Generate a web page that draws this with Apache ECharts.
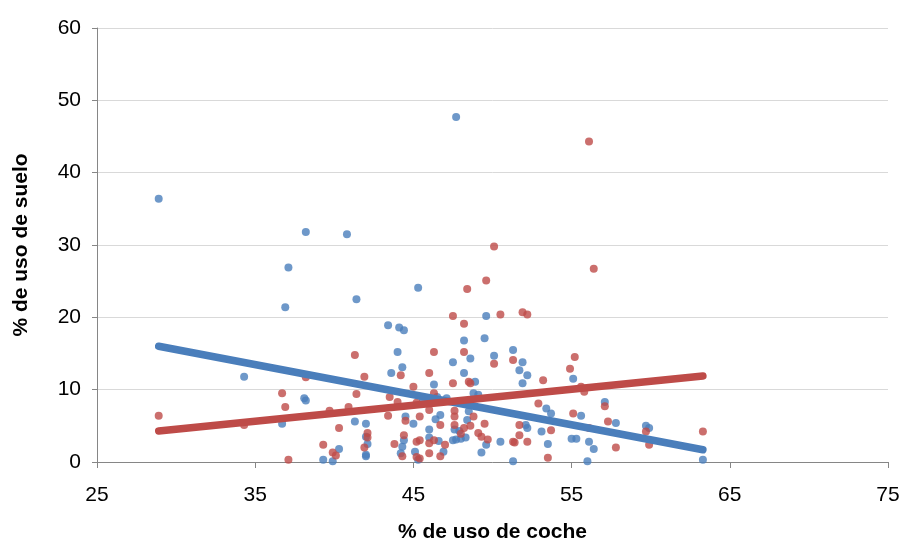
<!DOCTYPE html>
<html>
<head>
<meta charset="utf-8">
<script src="https://cdn.jsdelivr.net/npm/echarts@6/dist/echarts.min.js"></script>
<style>
  html, body { margin: 0; padding: 0; background: #fff; }
  #chart { width: 908px; height: 543px; }
</style>
</head>
<body>
<div id="chart"></div>
<script>
// ejes
var xTicks = [25, 35, 45, 55, 65, 75];
var yTicks = [0, 10, 20, 30, 40, 50, 60];

// serie azul: [% uso coche, % uso suelo]
var bluePoints = [
  [28.9, 36.4], [47.7, 47.7], [38.2, 31.8], [40.8, 31.5], [37.1, 26.9], [36.9, 21.4],
  [41.4, 22.5], [45.3, 24.1], [34.3, 11.8], [38.1, 8.8], [38.2, 8.5], [36.7, 5.3],
  [40.3, 1.8], [39.3, 0.3], [39.9, 0.1], [43.4, 18.9], [44.1, 18.6], [44.4, 18.2],
  [48.2, 16.8], [44.0, 15.2], [47.5, 13.8], [44.3, 13.1], [43.6, 12.3], [48.2, 12.3],
  [46.3, 10.7], [41.3, 5.6], [42.0, 5.3], [44.5, 6.3], [45.0, 5.3], [46.0, 4.5],
  [46.4, 5.9], [46.7, 6.5], [46.0, 3.4], [46.6, 2.9], [47.5, 3.0], [47.7, 3.1],
  [47.9, 4.3], [42.0, 0.8], [42.1, 2.5], [44.3, 2.1], [44.4, 3.0], [45.1, 1.4],
  [45.3, 0.3], [46.9, 1.4], [42.0, 3.5], [42.0, 1.0], [44.2, 1.2], [47.1, 8.8],
  [49.6, 20.2], [49.5, 17.1], [51.3, 15.5], [50.1, 14.7], [48.6, 14.3], [51.9, 13.8],
  [51.7, 12.7], [52.2, 12.0], [51.9, 10.9], [48.9, 11.1], [55.1, 11.5], [48.8, 9.5],
  [49.1, 9.3], [48.5, 7.0], [48.4, 5.8], [47.6, 4.5], [48.0, 3.2], [48.3, 3.4],
  [50.5, 2.8], [49.6, 2.4], [49.3, 1.3], [51.3, 0.1], [52.1, 5.1], [52.2, 4.7],
  [53.1, 4.2], [53.5, 2.5], [53.4, 7.4], [53.7, 6.7], [55.0, 3.2], [55.3, 3.2],
  [55.6, 6.4], [56.1, 2.8], [56.0, 0.1], [57.1, 8.3], [57.8, 5.4], [59.7, 5.0],
  [59.9, 4.7], [56.4, 1.8], [63.3, 0.3], [45.6, 8.6], [46.5, 9.0]
];

// serie roja
var redPoints = [
  [28.9, 6.4], [34.3, 5.1], [36.7, 9.5], [36.9, 7.6], [38.2, 11.7], [37.1, 0.3],
  [39.7, 7.1], [40.3, 4.7], [39.3, 2.4], [39.9, 1.3], [40.1, 0.9], [40.9, 7.6],
  [48.4, 23.9], [47.5, 20.2], [48.2, 19.1], [41.3, 14.8], [46.3, 15.2], [48.2, 15.2],
  [41.9, 11.8], [46.0, 12.3], [44.2, 12.0], [47.5, 10.9], [45.0, 10.4], [41.4, 9.4],
  [43.5, 9.0], [44.0, 8.3], [45.2, 8.2], [46.3, 9.5], [43.4, 6.4], [44.5, 5.7],
  [45.4, 6.3], [46.0, 7.2], [46.7, 5.1], [47.6, 7.1], [47.6, 6.3], [47.6, 5.1],
  [42.1, 4.0], [42.1, 3.4], [41.9, 2.0], [43.8, 2.5], [44.4, 3.7], [45.2, 2.8],
  [45.4, 3.0], [46.0, 2.6], [46.3, 3.0], [46.0, 1.2], [46.7, 0.8], [45.2, 0.7],
  [45.4, 0.5], [44.3, 0.8], [47.0, 2.4], [56.1, 44.3], [50.1, 29.8], [49.6, 25.1],
  [50.5, 20.4], [51.9, 20.7], [52.2, 20.4], [50.1, 13.6], [51.3, 14.1], [48.6, 10.9],
  [48.5, 11.1], [53.2, 11.3], [55.2, 14.5], [54.9, 12.9], [52.9, 8.1], [55.1, 6.7],
  [48.8, 6.3], [48.2, 4.7], [48.6, 5.0], [48.0, 3.9], [49.1, 4.0], [49.3, 3.5],
  [49.5, 5.3], [49.7, 3.1], [51.3, 2.8], [51.7, 5.1], [51.7, 3.7], [52.2, 2.8],
  [53.5, 0.6], [53.7, 4.4], [51.4, 2.7], [56.4, 26.7], [55.6, 10.4], [55.8, 9.7],
  [57.1, 7.7], [57.3, 5.6], [56.1, 4.7], [57.8, 2.0], [59.7, 4.2], [59.9, 2.4],
  [63.3, 4.2]
];

// lineas de tendencia (extremos)
var blueTrend = [[28.9, 16.0], [63.3, 1.7]];
var redTrend = [[28.9, 4.3], [63.3, 11.9]];

var blue = "#4a7ebb";
var red = "#be4b48";
var font = "'Liberation Sans', Arial, sans-serif";

var myChart = echarts.init(document.getElementById("chart"));
var option = {
  backgroundColor: "#fff",
  animation: false,
  grid: { left: 97, right: 20, top: 28, bottom: 81, containLabel: false, outerBoundsMode: "none" },
  xAxis: {
    type: "value",
    min: xTicks[0],
    max: xTicks[xTicks.length - 1],
    interval: 10,
    name: "% de uso de coche",
    nameLocation: "middle",
    nameGap: 60,
    nameTextStyle: { fontFamily: font, fontSize: 21, fontWeight: "bold", color: "#000" },
    axisLine: { show: true, onZero: false, lineStyle: { color: "#868686", width: 1 } },
    axisTick: { show: true, length: 6, lineStyle: { color: "#868686" } },
    axisLabel: { fontFamily: font, fontSize: 21, color: "#000", margin: 23 },
    splitLine: { show: false }
  },
  yAxis: {
    type: "value",
    min: yTicks[0],
    max: yTicks[yTicks.length - 1],
    interval: 10,
    name: "% de uso de suelo",
    nameLocation: "middle",
    nameGap: 65,
    nameTextStyle: { fontFamily: font, fontSize: 21, fontWeight: "bold", color: "#000" },
    axisLine: { show: true, lineStyle: { color: "#868686", width: 1 } },
    axisTick: { show: true, length: 5, lineStyle: { color: "#868686" } },
    axisLabel: { fontFamily: font, fontSize: 21, color: "#000", margin: 16 },
    splitLine: { show: true, lineStyle: { color: "#d9d9d9", width: 1 } }
  },
  series: [
    {
      type: "scatter",
      data: bluePoints,
      symbol: "circle",
      symbolSize: 8,
      itemStyle: { color: blue }
    },
    {
      type: "scatter",
      data: redPoints,
      symbol: "circle",
      symbolSize: 8,
      itemStyle: { color: red }
    },
    {
      type: "line",
      data: blueTrend,
      showSymbol: false,
      symbol: "none",
      lineStyle: { color: blue, width: 7.5, cap: "round" },
      z: 3
    },
    {
      type: "line",
      data: redTrend,
      showSymbol: false,
      symbol: "none",
      lineStyle: { color: red, width: 7.5, cap: "round" },
      z: 3
    }
  ]
};
myChart.setOption(option);
</script>
</body>
</html>
